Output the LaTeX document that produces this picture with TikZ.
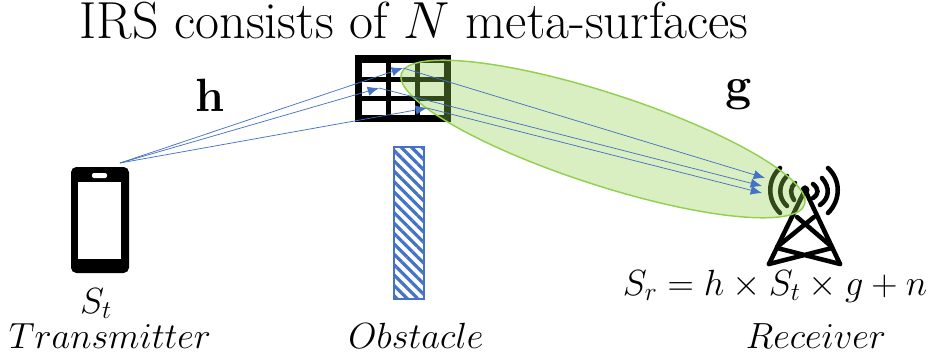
\RequirePackage{fix-cm}
\documentclass[tikz,border=0pt]{standalone}
\usepackage{amsmath}
\usetikzlibrary{arrows.meta,patterns.meta}
\tikzset{
  beam/.style={draw={rgb,255:red,68;green,114;blue,196},line width=0.55pt,-{Latex[length=8.5pt,width=7pt]}},
  wave/.style={draw=black,line width=3.4pt,line cap=round},
  leg/.style={draw=black,line width=3.4pt,line cap=round},
  label/.style={inner sep=0pt,outer sep=0pt,anchor=base,text=black,font=\fontsize{27.3}{33}\selectfont},
}
\begin{document}
\begin{tikzpicture}[x=.75pt,y=-.75pt]
\path[use as bounding box] (0,0) rectangle (933,358);
\node[label,font=\fontsize{39.1}{47}\selectfont] (title) at (414,38) {IRS consists of $N$ meta-surfaces};
\node[label,font=\bfseries\fontsize{35}{42}\selectfont] (hlabel) at (210,111) {h};
\node[label,font=\bfseries\fontsize{35}{42}\selectfont] (glabel) at (739,100) {g};
% phone
\path[fill=black,rounded corners=4pt] (71,167) rectangle (129,273);
\path[fill=white] (78,182) rectangle (121,259);
\path[fill=white,rounded corners=1.5pt] (92,173) rectangle (107,178);
\node[label] (st) at (96,313) {$S_t$};
\node[label] (transmitter) at (110,348) {$Transmitter$};
% irs panel
\path[fill=black] (355,55) rectangle (451,122);
\path[fill=white] (362,63) rectangle (386,77);
\path[fill=white] (391,63) rectangle (415,77);
\path[fill=white] (420,63) rectangle (444,77);
\path[fill=white] (362,82) rectangle (386,96);
\path[fill=white] (391,82) rectangle (415,96);
\path[fill=white] (420,82) rectangle (444,96);
\path[fill=white] (362,101) rectangle (386,115);
\path[fill=white] (391,101) rectangle (415,115);
\path[fill=white] (420,101) rectangle (444,115);
% obstacle
\path[pattern={Lines[angle=-45,distance=5.5pt,line width=2.4pt]},pattern color={rgb,255:red,68;green,114;blue,196},draw={rgb,255:red,68;green,114;blue,196},line width=0.8pt] (394,147) rectangle (424,299);
\node[label] (obstacle) at (416,348) {$Obstacle$};
% tower
\draw[leg] (769,264) -- (805,190) -- (840,264);
\draw[leg] (797,217) -- (832,247) (814,217) -- (777,247);
\draw[leg] (777,248) -- (840,264) (832,248) -- (769,264);
\path[fill=black] (805,190) circle (4.5);
\draw[wave] (780,168) .. controls (767,180) and (767,200) .. (780,213);
\draw[wave] (787,176) .. controls (778,185) and (778,198) .. (787,206);
\draw[wave] (795,183) .. controls (790,188) and (790,194) .. (794,200);
\draw[wave] (813,184) .. controls (819,189) and (819,194) .. (813,198);
\draw[wave] (822,178) .. controls (830,187) and (830,198) .. (820,205);
\draw[wave] (828,168) .. controls (841,180) and (841,200) .. (828,213);
\node[label] (sr) at (775,295) {$S_r = h \times S_t \times g + n$};
\node[label] (receiver) at (816,348) {$Receiver$};
% beam lobe
\draw[fill={rgb,255:red,146;green,208;blue,80},fill opacity=.35,draw={rgb,255:red,146;green,208;blue,80},line width=1.1pt,shift={(603,139)},rotate=-18] (0,0) ellipse [x radius=212,y radius=46];
% arrows
\coordinate (phonetop) at (120,163);
\coordinate (irsa) at (403,68);
\coordinate (irsb) at (379,88);
\coordinate (irsc) at (427,108);
\coordinate (rxa) at (765,178);
\coordinate (rxb) at (762,186);
\coordinate (rxc) at (762,193);
\draw[beam] (phonetop) -- (irsa);
\draw[beam] (phonetop) -- (irsb);
\draw[beam] (phonetop) -- (irsc);
\draw[beam] (irsa) -- (rxa);
\draw[beam] (irsb) -- (rxb);
\draw[beam] (irsc) -- (rxc);
\end{tikzpicture}
\end{document}
